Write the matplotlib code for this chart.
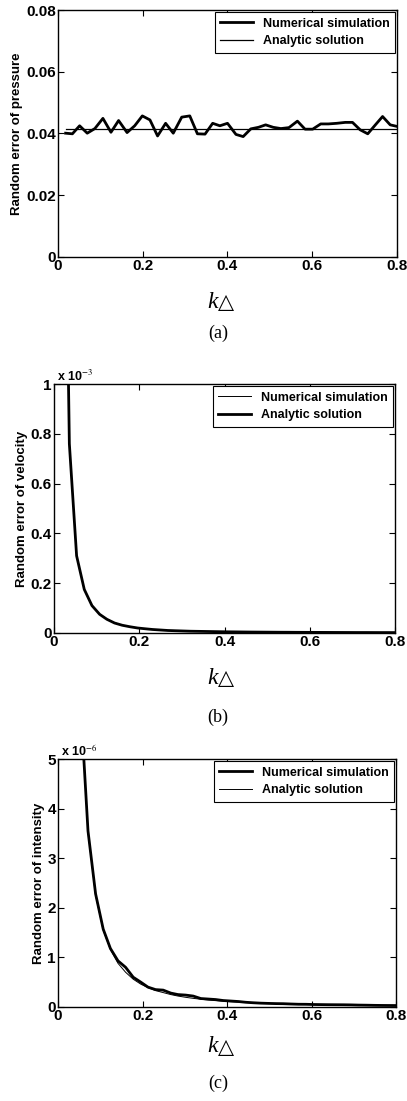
import matplotlib
matplotlib.use("Agg")
import matplotlib.pyplot as plt
from matplotlib.ticker import FuncFormatter

plt.rcParams["font.family"] = ["Liberation Sans", "DejaVu Sans"]
plt.rcParams["mathtext.fontset"] = "stix"

# (a) pressure
k_a = [0.018, 0.034, 0.051, 0.069, 0.087, 0.106, 0.125, 0.143, 0.163, 0.181,
       0.199, 0.217, 0.235, 0.254, 0.272, 0.292, 0.311, 0.329, 0.347, 0.365,
       0.382, 0.400, 0.420, 0.437, 0.455, 0.473, 0.490, 0.508, 0.526, 0.545,
       0.565, 0.583, 0.601, 0.620, 0.638, 0.658, 0.678, 0.695, 0.713, 0.731,
       0.749, 0.766, 0.784, 0.800]
pressure_num = [0.0401, 0.0399, 0.0425, 0.0401, 0.0416, 0.0449, 0.0404, 0.0442,
                0.0403, 0.0425, 0.0457, 0.0444, 0.0392, 0.0433, 0.0401, 0.0453,
                0.0457, 0.0399, 0.0398, 0.0433, 0.0425, 0.0433, 0.0397, 0.0390,
                0.0415, 0.0420, 0.0428, 0.0420, 0.0416, 0.0419, 0.0440, 0.0414,
                0.0414, 0.0431, 0.0431, 0.0433, 0.0436, 0.0436, 0.0412, 0.0399,
                0.0428, 0.0455, 0.0428, 0.0423]
pressure_ana_k = [0.018, 0.800]
pressure_ana = [0.0416, 0.0416]

# shared grid for (b) and (c)
k = [0.018, 0.036, 0.053, 0.071, 0.089, 0.107, 0.124, 0.142, 0.160, 0.178,
     0.196, 0.213, 0.231, 0.249, 0.267, 0.284, 0.302, 0.320, 0.338, 0.356,
     0.373, 0.391, 0.409, 0.427, 0.444, 0.462, 0.480, 0.498, 0.516, 0.533,
     0.551, 0.569, 0.587, 0.604, 0.622, 0.640, 0.658, 0.676, 0.693, 0.711,
     0.729, 0.747, 0.764, 0.782, 0.800]

# (b) velocity, x 1e-3
velocity_num = [2.9, 0.76, 0.31, 0.175, 0.11, 0.076, 0.056, 0.041, 0.031, 0.025,
                0.020, 0.017, 0.014, 0.012, 0.010, 0.009, 0.008, 0.007, 0.0065, 0.006,
                0.0055, 0.005, 0.0046, 0.0043, 0.004, 0.0037, 0.0035, 0.0033, 0.0031, 0.0029,
                0.0028, 0.0026, 0.0025, 0.0024, 0.0023, 0.0022, 0.0021, 0.002, 0.0019, 0.0018,
                0.0018, 0.0017, 0.0016, 0.0016, 0.0015]
velocity_ana = [2.9, 0.76, 0.31, 0.175, 0.11, 0.075, 0.055, 0.040, 0.031, 0.025,
                0.020, 0.017, 0.014, 0.012, 0.010, 0.009, 0.008, 0.007, 0.0065, 0.006,
                0.0055, 0.005, 0.0046, 0.0043, 0.004, 0.0037, 0.0035, 0.0033, 0.0031, 0.0029,
                0.0028, 0.0026, 0.0025, 0.0024, 0.0023, 0.0022, 0.0021, 0.002, 0.0019, 0.0018,
                0.0018, 0.0017, 0.0016, 0.0016, 0.0015]

# (c) intensity, x 1e-6
intensity_num = [55.0, 13.7, 6.2, 3.55, 2.28, 1.57, 1.18, 0.93, 0.80, 0.60,
                 0.50, 0.40, 0.35, 0.34, 0.28, 0.25, 0.24, 0.22, 0.17, 0.16,
                 0.15, 0.13, 0.12, 0.11, 0.095, 0.085, 0.077, 0.072, 0.068, 0.066,
                 0.060, 0.055, 0.054, 0.050, 0.048, 0.046, 0.045, 0.044, 0.042, 0.038,
                 0.036, 0.033, 0.031, 0.030, 0.029]
intensity_ana = [55.0, 13.7, 6.3, 3.53, 2.25, 1.55, 1.16, 0.88, 0.70, 0.56,
                 0.46, 0.39, 0.33, 0.29, 0.25, 0.22, 0.195, 0.174, 0.156, 0.140,
                 0.128, 0.116, 0.106, 0.098, 0.090, 0.083, 0.077, 0.072, 0.067, 0.063,
                 0.059, 0.055, 0.052, 0.049, 0.046, 0.043, 0.041, 0.039, 0.037, 0.035,
                 0.033, 0.032, 0.030, 0.029, 0.028]

xticks = [0, 0.2, 0.4, 0.6, 0.8]

fig = plt.figure(figsize=(4.07, 11.01), dpi=100)


def style_axes(ax, ylim, yticks, ylabel):
    ax.set_xlim(0, 0.8)
    ax.set_ylim(*ylim)
    ax.set_xticks(xticks)
    ax.set_yticks(yticks)
    fmt = FuncFormatter(lambda v, p: "%g" % round(v, 6))
    ax.xaxis.set_major_formatter(fmt)
    ax.yaxis.set_major_formatter(fmt)
    ax.tick_params(direction="in", length=4, width=0.8, top=True, right=True,
                   labelsize=11, pad=1.5)
    for lab in ax.get_xticklabels() + ax.get_yticklabels():
        lab.set_fontweight("bold")
    for s in ax.spines.values():
        s.set_linewidth(1.0)
    ax.set_ylabel(ylabel, fontsize=9.5, fontweight="bold", labelpad=2)
    leg = ax.legend(loc="upper right", borderaxespad=0.15,
                    handlelength=2.6, fancybox=False, edgecolor="black",
                    framealpha=1, prop={"size": 9, "weight": "bold"},
                    borderpad=0.45, labelspacing=0.45)
    leg.get_frame().set_linewidth(0.8)


# (a)
ax1 = fig.add_axes([0.1425, 0.7666, 0.8329, 0.2243])
ax1.plot(k_a, pressure_num, color="black", linewidth=2.0, label="Numerical simulation")
ax1.plot(pressure_ana_k, pressure_ana, color="black", linewidth=0.9, label="Analytic solution")
style_axes(ax1, (0, 0.08), [0, 0.02, 0.04, 0.06, 0.08], "Random error of pressure")

# (b)
ax2 = fig.add_axes([0.1327, 0.4251, 0.8378, 0.2261])
ax2.plot(k, velocity_num, color="black", linewidth=0.7, label="Numerical simulation")
ax2.plot(k, velocity_ana, color="black", linewidth=2.0, label="Analytic solution")
style_axes(ax2, (0, 1), [0, 0.2, 0.4, 0.6, 0.8, 1], "Random error of velocity")
ax2.text(0.01, 1.0, r"x 10$^{-3}$", transform=ax2.transAxes, fontsize=9,
         ha="left", va="bottom", fontweight="bold")

# (c)
ax3 = fig.add_axes([0.1425, 0.0854, 0.8305, 0.2252])
ax3.plot(k, intensity_num, color="black", linewidth=2.0, label="Numerical simulation")
ax3.plot(k, intensity_ana, color="black", linewidth=0.7, label="Analytic solution")
style_axes(ax3, (0, 5), [0, 1, 2, 3, 4, 5], "Random error of intensity")
ax3.text(0.01, 1.0, r"x 10$^{-6}$", transform=ax3.transAxes, fontsize=9,
         ha="left", va="bottom", fontweight="bold")

# axis labels and captions under each panel
serif = ["Liberation Serif", "DejaVu Serif"]
for y_lab, y_cap, cap in [(302, 333, "(a)"), (678, 717, "(b)"), (1047, 1083, "(c)")]:
    fig.text(218 / 407, 1 - y_lab / 1101, "k", fontsize=17, style="italic",
             family=serif, ha="right", va="center")
    fig.text(218 / 407, 1 - y_lab / 1101, "\u25b3", fontsize=15,
             family=["DejaVu Sans"], ha="left", va="center")
    fig.text(218 / 407, 1 - y_cap / 1101, cap, fontsize=13,
             family=serif, ha="center", va="center")

fig.savefig("out.png", dpi=100)
